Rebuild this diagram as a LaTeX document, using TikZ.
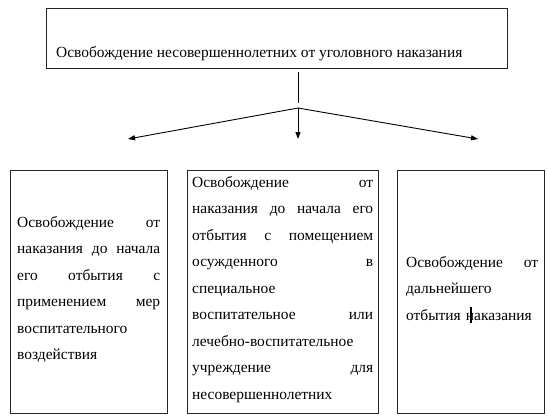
\documentclass[tikz,border=0pt]{standalone}
\usepackage{fontspec}
\setmainfont{Liberation Serif}
\usetikzlibrary{arrows.meta}
\newcommand\jl[2]{\makebox[#1][l]{#2}}
\begin{document}
\begin{tikzpicture}[x=1bp,y=-1bp,
  box/.style={draw=black!85, line width=1.1bp, inner sep=0, anchor=north west},
  txt/.style={inner sep=0, anchor=base west, font=\fontsize{15.5}{26.6}\selectfont, align=left},
  plain/.style={line width=0.9bp},
  conn/.style={line width=0.9bp, -{Triangle[length=7bp,width=5bp]}}]
\useasboundingbox (0,0) rectangle (550,419);
\fill[white] (0,0) rectangle (550,419);
% boxes
\node[box, minimum width=461bp, minimum height=60bp] (top) at (46,8) {};
\node[box, minimum width=157bp, minimum height=243bp] (left) at (10,170) {};
\node[box, minimum width=191bp, minimum height=243bp] (mid) at (187,170) {};
\node[box, minimum width=147bp, minimum height=243bp] (right) at (397,170) {};
% texts
\node[txt] (toptext) at (56,57) {Освобождение несовершеннолетних от уголовного наказания};
\node[txt, text width=143bp] (lefttext) at (17,227) {\jl{143bp}{Освобождение\hfill от}\\\jl{143bp}{наказания\hfill до\hfill начала}\\\jl{143bp}{его\hfill отбытия\hfill с}\\\jl{143bp}{применением\hfill мер}\\воспитательного\\воздействия};
\node[txt, text width=181bp] (midtext) at (192,187) {\jl{181bp}{Освобождение\hfill от}\\\jl{181bp}{наказания\hfill до\hfill начала\hfill его}\\\jl{181bp}{отбытия\hfill с\hfill помещением}\\\jl{181bp}{осужденного\hfill в}\\специальное\\\jl{181bp}{воспитательное\hfill или}\\лечебно-воспитательное\\\jl{181bp}{учреждение\hfill для}\\несовершеннолетних};
\node[txt, text width=132bp] (righttext) at (406,267) {\jl{132bp}{Освобождение\hfill от}\\дальнейшего\\отбытия наказания};
% connectors
\coordinate (v1) at (298,72);
\coordinate (v2) at (298,103);
\coordinate (apex) at (298,108);
\coordinate (tl) at (128,139);
\coordinate (tm) at (298,139);
\coordinate (tr) at (478,139);
\draw[plain] (v1) -- (v2);
\draw[conn] (apex) -- (tl);
\draw[conn] (apex) -- (tm);
\draw[conn] (apex) -- (tr);
% text cursor
\coordinate (c1) at (471,307);
\coordinate (c2) at (471,323);
\draw[line width=1.6bp] (c1) -- (c2);
\end{tikzpicture}
\end{document}
